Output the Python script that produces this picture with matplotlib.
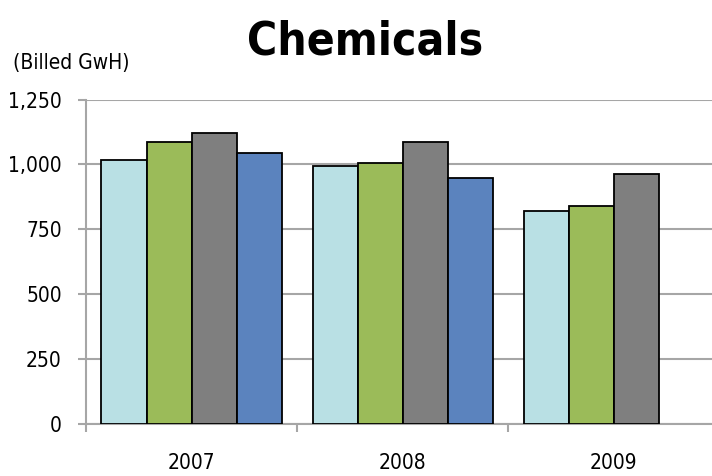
import numpy as np
import matplotlib
matplotlib.use('Agg')
import matplotlib.pyplot as plt

plt.rcParams['font.family'] = ['DejaVu Sans']
plt.rcParams['font.stretch'] = 'condensed'

years = ['2007', '2008', '2009']
series_colors = ['#B9E0E4', '#9BBB59', '#7F7F7F', '#5B83BE']
# four series per year, 2009 has only three
series_a = [1018, 994, 819]
series_b = [1088, 1007, 841]
series_c = [1121, 1088, 963]
series_d = [1044, 949, None]
yticks = [0, 250, 500, 750, 1000, 1250]

fig = plt.figure(figsize=(7.12, 4.76), dpi=100)
ax = fig.add_axes([0.1208, 0.1099, 0.8892, 0.6807])

bar_w = 0.2133
offsets = [-1.5 * bar_w, -0.5 * bar_w, 0.5 * bar_w, 1.5 * bar_w]
x = np.arange(len(years))
for off, vals, col in zip(offsets, [series_a, series_b, series_c, series_d], series_colors):
    xs = [xi + off for xi, v in zip(x, vals) if v is not None]
    hs = [v for v in vals if v is not None]
    ax.bar(xs, hs, width=bar_w, color=col, edgecolor='black', linewidth=1.3, zorder=3)

ax.set_ylim(0, 1250)
ax.set_xlim(-0.5, 2.5)
ax.set_yticks(yticks)
ax.set_yticklabels(['{:,}'.format(t) for t in yticks], fontsize=15)
ax.grid(axis='y', color='#A6A6A6', linewidth=1.5, zorder=0)

ax.set_xticks([-0.5, 0.5, 1.5, 2.5])
ax.set_xticklabels([])
ax.set_xticks(x, minor=True)
ax.set_xticklabels(years, minor=True, fontsize=15)
ax.tick_params(axis='x', which='minor', length=0, pad=21)
ax.tick_params(axis='x', which='major', length=6, width=1.5, color='#A6A6A6', direction='out')
ax.tick_params(axis='y', length=6, width=1.5, color='#A6A6A6', pad=11.5)

for s in ['top', 'right']:
    ax.spines[s].set_visible(False)
for s in ['left', 'bottom']:
    ax.spines[s].set_color('#A6A6A6')
    ax.spines[s].set_linewidth(1.5)

fig.text(0.513, 0.8845, 'Chemicals', ha='center', va='baseline', fontsize=33, fontweight='bold')
fig.text(0.018, 0.855, '(Billed GwH)', ha='left', va='baseline', fontsize=15)

fig.savefig('out.png', dpi=100)
